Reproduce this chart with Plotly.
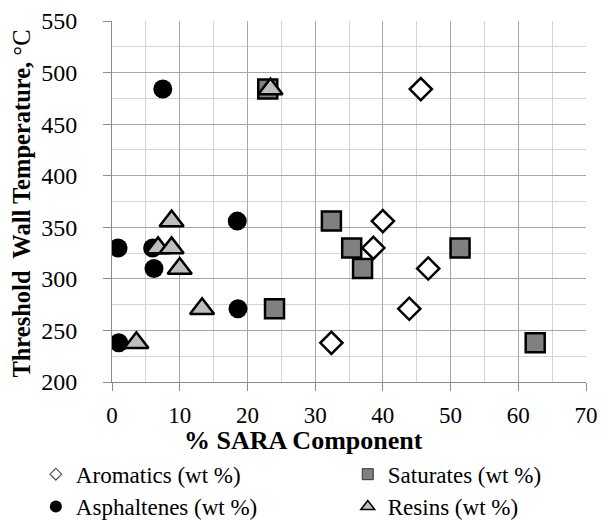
import plotly.graph_objects as go

# SARA composition (wt %) versus threshold wall temperature (°C)
aro_x = [45.6, 40.0, 38.6, 46.7, 43.9, 32.4]
aro_y = [484, 356, 330, 310, 271, 238]

sat_x = [23.0, 32.4, 35.4, 51.4, 37.0, 24.0, 62.5]
sat_y = [484, 356, 330, 330, 310, 271, 238]

asp_x = [7.5, 18.5, 0.9, 6.0, 6.2, 18.6, 1.0]
asp_y = [484, 356, 330, 330, 310, 271, 238]

res_x = [23.4, 8.8, 6.8, 8.8, 10.0, 13.3, 3.6]
res_y = [484, 356, 330, 330, 310, 271, 238]

FONT = "Liberation Serif, Times New Roman, serif"
OUTLINE = dict(color="black", width=2.5)

fig = go.Figure()

# data markers (drawn in stacking order)
fig.add_trace(go.Scatter(x=sat_x, y=sat_y, mode="markers", showlegend=False,
                         marker=dict(symbol="square", size=19, color="#808080", line=OUTLINE)))
fig.add_trace(go.Scatter(x=aro_x, y=aro_y, mode="markers", showlegend=False,
                         marker=dict(symbol="diamond", size=17, color="white", line=OUTLINE)))
fig.add_trace(go.Scatter(x=asp_x, y=asp_y, mode="markers", showlegend=False,
                         marker=dict(symbol="circle", size=19, color="black", line=dict(width=0))))
fig.add_trace(go.Scatter(x=res_x, y=res_y, mode="markers", showlegend=False,
                         marker=dict(symbol="triangle-up", size=21, color="#bebebe", line=OUTLINE)))

# legend entries with small symbols, one legend box per entry (2 x 2 grid)
fig.add_trace(go.Scatter(x=[None], y=[None], mode="markers", name="Aromatics (wt %)", legend="legend",
                         marker=dict(symbol="diamond", size=9, color="white", line=dict(color="#555555", width=1.2))))
fig.add_trace(go.Scatter(x=[None], y=[None], mode="markers", name="Saturates (wt %)", legend="legend2",
                         marker=dict(symbol="square", size=11, color="#808080", line=dict(color="#333333", width=1))))
fig.add_trace(go.Scatter(x=[None], y=[None], mode="markers", name="Asphaltenes (wt %)", legend="legend3",
                         marker=dict(symbol="circle", size=12, color="black", line=dict(width=0))))
fig.add_trace(go.Scatter(x=[None], y=[None], mode="markers", name="Resins (wt %)", legend="legend4",
                         marker=dict(symbol="triangle-up", size=12, color="#bebebe", line=dict(color="black", width=1.5))))

def legend_box(x, y):
    return dict(orientation="h", xref="container", yref="container", x=x, y=y,
                xanchor="left", yanchor="middle", bgcolor="rgba(0,0,0,0)",
                font=dict(family=FONT, size=23, color="black"), itemclick=False)

fig.update_layout(
    width=608, height=520,
    margin=dict(l=112, r=22, t=21, b=138, autoexpand=False),
    paper_bgcolor="white", plot_bgcolor="white",
    font=dict(family=FONT, color="black"),
    legend=legend_box(0.059, 0.088),
    legend2=legend_box(0.572, 0.088),
    legend3=legend_box(0.059, 0.026),
    legend4=legend_box(0.572, 0.026),
    xaxis=dict(range=[0, 70], dtick=10, tick0=0, showgrid=True, gridcolor="#a6a6a6", gridwidth=1,
               minor=dict(dtick=5, showgrid=True, gridcolor="#d4d4d4", gridwidth=1),
               showline=True, linecolor="#8c8c8c", linewidth=1, ticks="outside", ticklen=8,
               tickcolor="#8c8c8c", zeroline=False, ticklabelstandoff=4,
               tickfont=dict(family=FONT, size=23, color="black")),
    yaxis=dict(range=[200, 550], dtick=50, tick0=200, showgrid=True, gridcolor="#a6a6a6", gridwidth=1,
               minor=dict(dtick=25, showgrid=True, gridcolor="#d4d4d4", gridwidth=1),
               showline=True, linecolor="#8c8c8c", linewidth=1, ticks="outside", ticklen=8,
               tickcolor="#8c8c8c", zeroline=False, ticklabelstandoff=21,
               tickfont=dict(family=FONT, size=24, color="black")),
    annotations=[
        dict(text="<b>% SARA Component</b>", xref="paper", yref="paper", x=0.403, y=-0.162,
             xanchor="center", yanchor="middle", showarrow=False,
             font=dict(family=FONT, size=26, color="black")),
        dict(text="<b>Threshold  Wall Temperature,</b> °C", xref="paper", yref="paper", x=-0.19, y=0.494,
             xanchor="center", yanchor="middle", textangle=-90, showarrow=False,
             font=dict(family=FONT, size=24.5, color="black")),
    ],
)

fig.write_html("out.html")
